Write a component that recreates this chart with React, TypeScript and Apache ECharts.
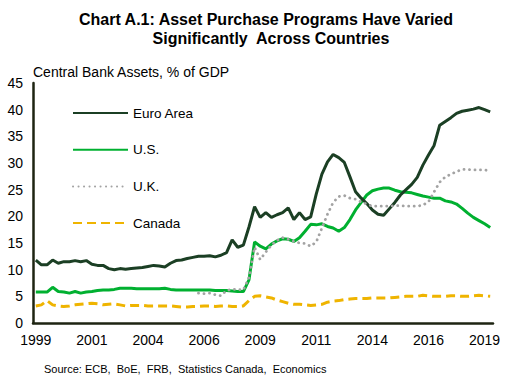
import React, { useEffect, useRef } from "react";
import * as echarts from "echarts";

// Quarterly categories, 1999Q1 .. 2019Q2 (82 quarters)
const START_YEAR = 1999;
const N_QUARTERS = 82;
const quarters: string[] = [];
for (let i = 0; i < N_QUARTERS; i++) {
  quarters.push(`${START_YEAR + Math.floor(i / 4)} Q${(i % 4) + 1}`);
}

const seriesNames = ["Euro Area", "U.S.", "U.K.", "Canada"];

const euroArea = [
  11.8, 10.9, 10.9, 11.8, 11.2, 11.5, 11.5, 11.7, 11.5, 11.7,
  11.0, 10.8, 10.8, 10.2, 10.0, 10.2, 10.1, 10.2, 10.3, 10.4,
  10.6, 10.8, 10.7, 10.5, 11.2, 11.7, 11.8, 12.1, 12.3, 12.5,
  12.5, 12.6, 12.4, 12.7, 13.2, 15.6, 14.2, 14.6, 18.0, 21.8,
  19.8, 20.7, 19.8, 20.3, 20.7, 21.6, 19.4, 20.7, 19.4, 19.9,
  24.2, 27.9, 30.2, 31.6, 31.0, 30.1, 27.4, 24.6, 23.4, 22.4,
  21.2, 20.4, 20.2, 21.4, 22.6, 24.0, 25.0, 26.0, 27.3, 29.6,
  31.5, 33.3, 37.1, 37.8, 38.5, 39.3, 39.7, 39.9, 40.1, 40.4,
  40.0, 39.6,
];

const us = [
  5.8, 5.8, 5.8, 6.7, 5.9, 5.8, 5.6, 5.9, 5.6, 5.8,
  5.9, 6.1, 6.2, 6.2, 6.3, 6.5, 6.5, 6.5, 6.4, 6.4,
  6.4, 6.4, 6.4, 6.5, 6.3, 6.2, 6.2, 6.2, 6.2, 6.2,
  6.2, 6.2, 6.1, 6.1, 6.1, 6.0, 5.9, 5.9, 8.1, 15.2,
  14.4, 13.9, 14.8, 15.4, 15.8, 15.7, 15.3, 16.0, 17.2, 18.5,
  18.4, 18.6, 18.1, 17.8, 17.2, 17.9, 19.4, 21.2, 22.6, 24.0,
  24.8, 25.1, 25.3, 25.3, 24.9, 24.6, 24.5, 24.4, 24.1, 23.8,
  23.6, 23.4, 23.4, 22.9, 22.7, 22.3, 21.5, 20.6, 19.8, 19.2,
  18.6, 17.9,
];

const uk: (number | null)[] = [
  null, null, null, null, null, null, null, null, null, null,
  null, null, null, null, null, null, null, null, null, null,
  null, null, null, null, null, null, null, null, null, 5.6,
  5.5, 5.6, 5.3, 5.1, 6.1, 6.3, 6.3, 6.2, 8.5, 14.2,
  11.9, 13.3, 14.6, 15.5, 16.0, 15.7, 15.3, 15.0, 14.9, 14.4,
  15.2, 17.8, 20.4, 22.6, 23.7, 23.9, 23.4, 23.2, 22.7, 22.3,
  21.9, 21.9, 21.9, 21.9, 22.0, 22.0, 21.9, 21.9, 21.9, 22.1,
  22.7, 24.6, 26.4, 27.4, 27.9, 28.4, 28.8, 28.8, 28.7, 28.7,
  28.7, 28.5,
];

const canada = [
  3.2, 3.4, 4.2, 3.4, 3.2, 3.1, 3.2, 3.4, 3.5, 3.6,
  3.7, 3.6, 3.4, 3.5, 3.6, 3.4, 3.2, 3.3, 3.3, 3.3,
  3.2, 3.2, 3.2, 3.2, 3.2, 3.1, 3.0, 3.0, 3.1, 3.1,
  3.2, 3.2, 3.1, 3.2, 3.2, 3.1, 3.1, 3.2, 4.2, 5.0,
  5.1, 4.9, 4.7, 4.3, 4.0, 3.7, 3.5, 3.5, 3.4, 3.3,
  3.4, 3.5, 3.9, 4.1, 4.2, 4.4, 4.5, 4.6, 4.6, 4.6,
  4.7, 4.7, 4.7, 4.7, 4.8, 4.9, 5.0, 5.0, 5.0, 5.2,
  5.1, 5.0, 5.0, 5.0, 5.1, 5.1, 5.0, 5.0, 5.1, 5.2,
  5.1, 5.0,
];

const yTicks = { min: 0, max: 45, interval: 5 };

const FONT = "Liberation Sans, Arial, Helvetica, sans-serif";
const AXIS_COLOR = "#1e2412";

export default function App() {
  const ref = useRef<HTMLDivElement>(null);

  useEffect(() => {
    if (!ref.current) return;
    const chart = echarts.init(ref.current, undefined, { renderer: "svg" });
    chart.setOption({
      animation: false,
      backgroundColor: "#ffffff",
      textStyle: { fontFamily: FONT },
      graphic: [
        {
          type: "text",
          x: 266,
          y: 19.5,
          style: {
            text: "Chart A.1: Asset Purchase Programs Have Varied",
            font: `bold 16px ${FONT}`,
            fill: "#000",
            align: "center",
            verticalAlign: "middle",
          },
        },
        {
          type: "text",
          x: 271,
          y: 38.5,
          style: {
            text: "Significantly  Across Countries",
            font: `bold 16px ${FONT}`,
            fill: "#000",
            align: "center",
            verticalAlign: "middle",
          },
        },
        {
          type: "text",
          x: 33,
          y: 72,
          style: {
            text: "Central Bank Assets, % of GDP",
            font: `14px ${FONT}`,
            fill: "#000",
            align: "left",
            verticalAlign: "middle",
          },
        },
        {
          type: "text",
          x: 44,
          y: 369,
          style: {
            text: "Source: ECB,  BoE,  FRB,  Statistics Canada,  Economics",
            font: `11px ${FONT}`,
            fill: "#000",
            align: "left",
            verticalAlign: "middle",
          },
        },
      ],
      legend: {
        orient: "vertical",
        left: 72,
        top: 106,
        padding: 0,
        itemWidth: 55,
        itemHeight: 14,
        itemGap: 22.7,
        data: seriesNames,
        itemStyle: { opacity: 0, borderWidth: 0 },
        textStyle: { fontSize: 13.5, color: "#000", fontFamily: FONT },
      },
      grid: { left: 33, right: 25, top: 83, bottom: 62 },
      xAxis: {
        type: "category",
        data: quarters,
        boundaryGap: true,
        axisLine: { show: true, lineStyle: { color: AXIS_COLOR, width: 2.5 } },
        axisTick: { show: false },
        axisLabel: {
          interval: 9,
          fontSize: 14,
          color: "#000",
          margin: 10,
          fontFamily: FONT,
          formatter: (v: string) => v.slice(0, 4),
        },
        splitLine: { show: false },
      },
      yAxis: {
        type: "value",
        min: yTicks.min,
        max: yTicks.max,
        interval: yTicks.interval,
        axisLine: { show: true, lineStyle: { color: AXIS_COLOR, width: 2.5 } },
        axisTick: { show: false },
        axisLabel: { fontSize: 14, color: "#000", margin: 10, fontFamily: FONT },
        splitLine: { show: false },
      },
      series: [
        {
          name: seriesNames[0],
          type: "line",
          data: euroArea,
          symbol: "none",
          z: 4,
          lineStyle: { color: "#1b3f24", width: 3 },
          itemStyle: { color: "#1b3f24" },
        },
        {
          name: seriesNames[1],
          type: "line",
          data: us,
          symbol: "none",
          z: 3,
          lineStyle: { color: "#00b030", width: 3 },
          itemStyle: { color: "#00b030" },
        },
        {
          name: seriesNames[2],
          type: "line",
          data: uk,
          symbol: "none",
          z: 5,
          lineStyle: { color: "#a3a3a3", width: 2.8, type: [0.1, 5.4], cap: "round" },
          itemStyle: { color: "#a3a3a3" },
        },
        {
          name: seriesNames[3],
          type: "line",
          data: canada,
          symbol: "none",
          z: 2,
          lineStyle: { color: "#efb400", width: 3, type: [9, 5] },
          itemStyle: { color: "#efb400" },
        },
      ],
    });
    return () => chart.dispose();
  }, []);

  return (
    <div
      ref={ref}
      style={{ position: "absolute", left: 0, top: 0, width: 518, height: 385 }}
    />
  );
}
